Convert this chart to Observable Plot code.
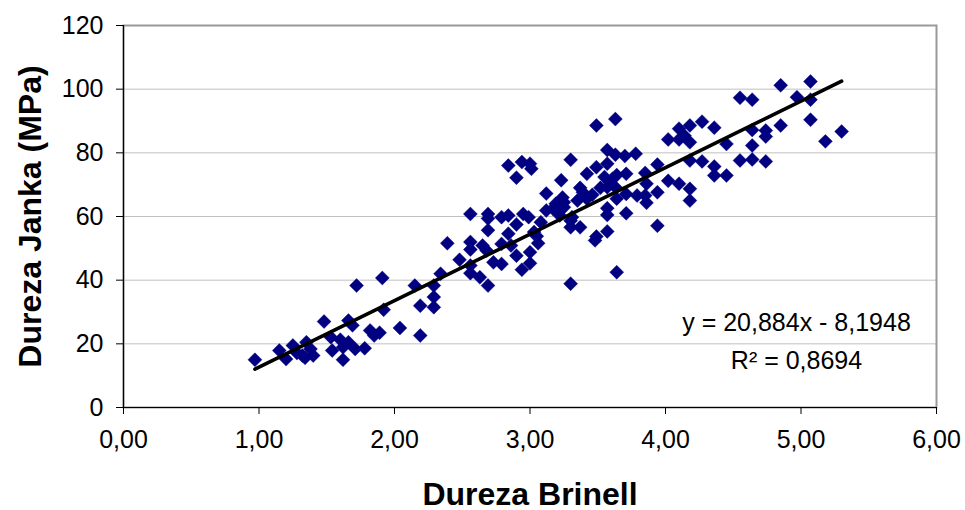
<!DOCTYPE html>
<html>
<head>
<meta charset="utf-8">
<script src="https://cdn.jsdelivr.net/npm/d3@7"></script>
<script src="https://cdn.jsdelivr.net/npm/@observablehq/plot@0.6"></script>
<style>
  html, body { margin: 0; padding: 0; background: #fff; }
</style>
</head>
<body>
<div id="chart"></div>
<script>
const brinell = [
  0.97,1.15,1.20,1.25,1.28,1.32,1.34,1.35,1.38,1.40,
  1.48,1.53,1.54,1.60,1.62,1.62,1.66,1.66,1.69,1.72,
  1.71,1.78,1.82,1.85,1.89,1.91,1.92,2.04,2.15,2.19,
  2.19,2.29,2.29,2.29,2.34,2.39,2.48,2.56,2.56,2.56,
  2.56,2.56,2.65,2.68,2.63,2.69,2.69,2.69,2.69,2.73,
  2.79,2.79,2.79,2.84,2.86,2.84,2.90,2.90,2.94,2.95,
  2.99,3.00,3.00,3.05,3.06,3.08,3.03,2.84,2.94,3.00,
  3.01,2.90,3.12,3.24,3.25,3.23,3.30,3.37,3.39,3.42,
  3.49,3.57,3.57,3.63,3.70,3.78,3.49,3.63,3.55,3.52,
  3.61,3.64,3.71,3.85,3.94,3.86,3.94,4.02,4.10,4.18,
  4.18,3.86,3.85,3.79,3.71,3.64,3.63,3.57,3.57,3.57,
  3.71,3.94,3.49,3.57,3.48,3.37,3.30,3.30,3.42,3.35,
  3.12,3.22,3.30,3.64,4.85,5.07,4.97,5.07,4.55,4.64,
  5.07,5.30,5.18,4.85,4.74,4.74,4.64,4.64,4.55,4.64,
  4.74,4.45,4.36,4.27,4.18,4.10,4.14,4.02,4.10,4.18,
  4.18,4.27,4.36,4.36,4.45,3.17,3.25,3.31,3.46,3.19,
  3.59
];
const janka = [
  15.0,17.9,15.2,19.5,17.1,16.3,15.6,20.5,18.4,16.3,
  27.0,22.1,17.9,21.3,15.0,18.9,27.3,20.5,25.8,38.3,
  18.4,18.6,24.2,22.6,23.5,40.7,30.7,25.0,38.3,22.6,
  32.0,31.5,34.7,38.3,42.0,51.6,46.4,60.8,52.0,49.6,
  44.6,42.2,50.9,49.3,40.9,38.3,60.8,59.4,55.7,45.6,
  45.1,59.8,51.4,60.3,50.9,54.6,57.5,47.7,43.3,60.8,
  59.8,45.3,48.8,53.8,51.6,58.2,55.1,76.0,77.1,76.6,
  75.0,72.2,67.2,66.0,64.5,71.4,77.8,69.0,67.6,73.4,
  75.5,80.9,76.6,79.4,79.0,79.7,88.6,90.6,72.4,69.0,
  71.9,73.0,73.4,73.7,76.3,70.3,67.6,71.2,70.3,68.7,
  65.0,64.3,66.6,66.6,67.1,65.6,69.2,69.2,62.6,60.5,
  61.0,57.1,53.7,55.3,52.5,56.6,56.6,58.7,65.6,65.0,
  61.9,60.3,38.9,42.5,101.2,102.4,97.5,96.7,97.3,96.7,
  90.4,86.7,83.6,88.6,87.0,85.1,87.2,82.3,77.6,77.9,
  77.3,82.8,87.9,89.8,88.6,87.6,85.4,84.2,84.2,83.3,
  77.6,77.3,75.7,72.9,72.9,62.4,62.9,59.8,66.8,64.0,
  70.8
];
const xTicks = [0, 1, 2, 3, 4, 5, 6];
const yTicks = [0, 20, 40, 60, 80, 100, 120];
const slope = 20.884;
const intercept = -8.1948;
const rSquared = 0.8694;
const xTitle = "Dureza Brinell";
const yTitle = "Dureza Janka (MPa)";

const fmt = (v, n) => v.toFixed(n).replace(".", ",");
const eqText = `y = ${fmt(slope, 3)}x - ${fmt(-intercept, 4)}`;
const r2Text = `R² = ${fmt(rSquared, 4)}`;

const points = brinell.map((b, i) => ({b, j: janka[i]}));
const [x0, x1] = d3.extent(brinell);
const trend = [x0, x1].map(x => ({b: x, j: slope * x + intercept}));

const font = "'Liberation Sans', Arial, sans-serif";

const chart = Plot.plot({
  width: 965,
  height: 510,
  marginLeft: 123,
  marginRight: 29,
  marginTop: 25,
  marginBottom: 103,
  style: {fontFamily: font, fontSize: "25px", background: "#fff", color: "#000"},
  x: {domain: [0, 6]},
  y: {domain: [0, 120]},
  marks: [
    Plot.gridY(yTicks, {stroke: "#c0c0c0", strokeOpacity: 1, strokeWidth: 1}),
    Plot.frame({stroke: "#999", strokeWidth: 2}),
    Plot.ruleX([0], {stroke: "#000", strokeWidth: 1.2}),
    Plot.ruleY([0], {stroke: "#000", strokeWidth: 1.2}),
    Plot.axisY(yTicks, {tickSize: 7, tickPadding: 13, label: null, fontSize: 25, tickFormat: d => String(d)}),
    Plot.axisX(xTicks, {tickSize: 7, tickPadding: 16, label: null, fontSize: 25, tickFormat: d => fmt(d, 2)}),
    Plot.dot(points, {x: "b", y: "j", symbol: "diamond2", r: 6.3, fill: "#000080", stroke: "#000080", strokeWidth: 0.4}),
    Plot.line(trend, {x: "b", y: "j", stroke: "#000", strokeWidth: 3.6}),
    Plot.text([eqText], {text: d => d, frameAnchor: "bottom-right", dx: -140, dy: -77, textAnchor: "middle", fontSize: 25, fill: "#000"}),
    Plot.text([r2Text], {text: d => d, frameAnchor: "bottom-right", dx: -140, dy: -39, textAnchor: "middle", fontSize: 25, fill: "#000"}),
    Plot.text([xTitle], {text: d => d, frameAnchor: "bottom", dy: 97, textAnchor: "middle", fontSize: 32, fontWeight: "bold", fill: "#000"}),
    Plot.text([yTitle], {text: d => d, frameAnchor: "left", dx: -93, rotate: -90, textAnchor: "middle", fontSize: 32, fontWeight: "bold", fill: "#000"})
  ]
});
document.getElementById("chart").appendChild(chart);
</script>
</body>
</html>
